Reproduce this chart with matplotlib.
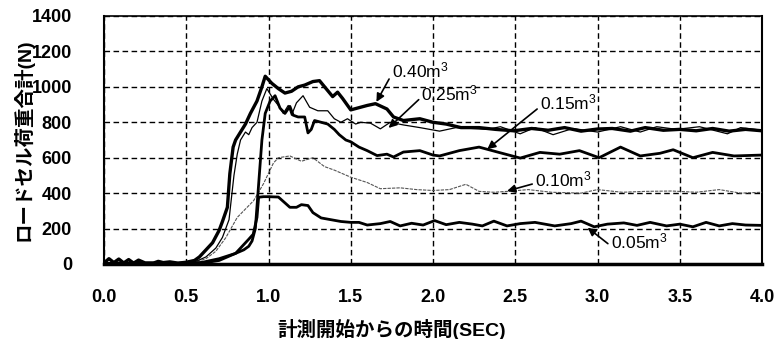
import matplotlib.pyplot as plt

plt.switch_backend('Agg')

# 0.40 m3
t_040 = [0.0, 0.03, 0.06, 0.09, 0.12, 0.15, 0.18, 0.21, 0.25, 0.3, 0.33, 0.36, 0.4, 0.45, 0.5, 0.55,
         0.58, 0.62, 0.66, 0.7, 0.72, 0.75, 0.765, 0.785, 0.8, 0.83, 0.86, 0.89, 0.93, 0.96, 0.98,
         1.02, 1.06, 1.1, 1.14, 1.18, 1.22, 1.27, 1.31, 1.35, 1.39, 1.42, 1.45, 1.5, 1.54, 1.6, 1.65,
         1.72, 1.76, 1.82, 1.92, 2.0, 2.08, 2.17, 2.28, 2.38, 2.49, 2.6, 2.7, 2.8, 2.9, 3.0, 3.09,
         3.2, 3.29, 3.4, 3.5, 3.6, 3.7, 3.8, 3.9, 4.0]
v_040 = [5, 30, 8, 28, 6, 25, 5, 22, 6, 5, 15, 8, 12, 5, 10, 20,
         40, 80, 120, 190, 240, 320, 510, 660, 700, 745, 790, 850, 920, 1000, 1060,
         1020, 990, 965, 975, 1000, 1010, 1030, 1035, 990, 945, 970, 935, 870, 880, 895, 905,
         875, 830, 810, 820, 800, 790, 770, 770, 760, 752, 765, 755, 770, 750, 762, 765,
         750, 770, 755, 760, 752, 765, 750, 760, 752]

# 0.25 m3
t_025 = [0.0, 0.1, 0.2, 0.3, 0.4, 0.5, 0.56, 0.62, 0.68, 0.72, 0.76, 0.79, 0.81, 0.83, 0.86, 0.88,
         0.9, 0.93, 0.96, 0.99, 1.03, 1.06, 1.09, 1.12, 1.14, 1.17, 1.21, 1.25, 1.3, 1.36, 1.4,
         1.44, 1.48, 1.53, 1.56, 1.62, 1.68, 1.74, 1.82, 1.92, 2.04, 2.14, 2.24, 2.33, 2.41, 2.53,
         2.62, 2.73, 2.85, 3.0, 3.14, 3.26, 3.36, 3.48, 3.62, 3.79, 3.87, 4.0]
v_025 = [5, 8, 5, 6, 5, 6, 15, 40, 90, 150, 250, 500, 620, 700, 745, 730,
         770, 800, 920, 990, 930, 895, 850, 895, 840, 910, 950, 885, 865, 865, 820,
         800, 820, 790, 800, 795, 763, 800, 785, 770, 750, 770, 765, 760, 775, 735,
         770, 730, 765, 745, 775, 745, 775, 760, 775, 735, 770, 755]

# 0.15 m3
t_015 = [0.0, 0.1, 0.2, 0.3, 0.4, 0.5, 0.55, 0.6, 0.7, 0.8, 0.85, 0.88, 0.9, 0.92, 0.94, 0.96,
         0.98, 1.01, 1.04, 1.07, 1.1, 1.13, 1.15, 1.18, 1.22, 1.24, 1.26, 1.28, 1.32, 1.36, 1.4,
         1.43, 1.47, 1.5, 1.55, 1.6, 1.66, 1.72, 1.76, 1.82, 1.92, 2.0, 2.04, 2.16, 2.28, 2.4,
         2.53, 2.65, 2.77, 2.89, 3.01, 3.14, 3.26, 3.38, 3.46, 3.58, 3.7, 3.83, 4.0]
v_015 = [3, 5, 3, 5, 3, 5, 5, 10, 30, 60, 80, 100, 130, 200, 450, 700,
         850, 920, 950, 880, 850, 890, 840, 830, 830, 740, 760, 810, 800, 790, 760,
         730, 700, 690, 660, 640, 612, 620, 604, 632, 640, 615, 610, 640, 660, 630,
         598, 630, 620, 640, 600, 660, 610, 625, 645, 600, 630, 610, 615]

# 0.10 m3
t_010 = [0.0, 0.1, 0.2, 0.3, 0.4, 0.5, 0.55, 0.62, 0.68, 0.74, 0.81, 0.87, 0.91, 0.97, 1.0, 1.03,
         1.06, 1.13, 1.2, 1.27, 1.34, 1.4, 1.5, 1.6, 1.68, 1.8, 1.9, 2.0, 2.1, 2.2, 2.28, 2.37,
         2.45, 2.58, 2.72, 2.9, 3.0, 3.15, 3.29, 3.45, 3.6, 3.74, 3.87, 4.0]
v_010 = [3, 5, 3, 5, 3, 5, 8, 30, 72, 148, 263, 320, 358, 454, 512, 570,
         600, 610, 580, 600, 550, 530, 490, 460, 425, 430, 420, 415, 420, 450, 410, 405,
         410, 420, 405, 400, 420, 405, 410, 412, 405, 420, 400, 405]

# 0.05 m3
t_005 = [0.0, 0.1, 0.2, 0.3, 0.4, 0.5, 0.6, 0.7, 0.75, 0.8, 0.85, 0.88, 0.907, 0.93, 0.94, 0.97,
         1.0, 1.06, 1.1, 1.13, 1.17, 1.2, 1.24, 1.27, 1.32, 1.38, 1.44, 1.5, 1.55, 1.6, 1.68,
         1.74, 1.8, 1.87, 1.94, 2.01, 2.08, 2.16, 2.24, 2.3, 2.37, 2.45, 2.53, 2.62, 2.74, 2.84,
         2.9, 2.98, 3.06, 3.16, 3.24, 3.32, 3.42, 3.5, 3.58, 3.66, 3.74, 3.82, 3.9, 4.0]
v_005 = [3, 5, 3, 5, 3, 5, 5, 20, 40, 60, 110, 140, 168, 263, 377, 380,
         380, 378, 345, 320, 320, 335, 330, 290, 260, 250, 240, 235, 235, 220, 228,
         240, 215, 230, 220, 245, 222, 235, 225, 215, 242, 215, 228, 235, 215, 228,
         242, 210, 225, 232, 218, 235, 215, 225, 210, 235, 215, 228, 220, 218]

labels = ['0.40m$^{3}$', '0.25m$^{3}$', '0.15m$^{3}$', '0.10m$^{3}$', '0.05m$^{3}$']
label_xy = [(1.656, 915), (1.73, 768), (2.33, 648), (2.45, 412), (2.94, 205)]
label_text_xy = [(1.75, 1095), (1.93, 965), (2.65, 910), (2.62, 478), (3.08, 125)]
x_ticks = [0.0, 0.5, 1.0, 1.5, 2.0, 2.5, 3.0, 3.5, 4.0]
y_ticks = [0, 200, 400, 600, 800, 1000, 1200, 1400]

plt.rcParams['font.family'] = ['Liberation Sans', 'Noto Sans CJK JP', 'DejaVu Sans']
plt.rcParams['mathtext.fontset'] = 'custom'
plt.rcParams['mathtext.rm'] = 'Liberation Sans'
plt.rcParams['mathtext.it'] = 'Liberation Sans'
plt.rcParams['mathtext.default'] = 'rm'

fig = plt.figure(figsize=(7.8, 3.39), dpi=100)
ax = fig.add_axes([104 / 780, 1 - 264 / 339, 658 / 780, 248 / 339])

ax.plot(t_010, v_010, color='#555555', lw=0.8, ls=(0, (3, 1)), zorder=3)
ax.plot(t_005, v_005, color='black', lw=2.0, zorder=4)
ax.plot(t_015, v_015, color='black', lw=2.0, zorder=4)
ax.plot(t_025, v_025, color='black', lw=0.9, zorder=5)
ax.plot(t_040, v_040, color='black', lw=2.4, zorder=6)

for lab, xy, xyt in zip(labels, label_xy, label_text_xy):
    ax.annotate(lab, xy=xy, xytext=xyt, fontsize=12.5, ha='left', va='center',
                arrowprops=dict(arrowstyle='-|>', color='black', lw=1.2,
                                mutation_scale=12, shrinkA=0, shrinkB=0,
                                relpos=(0, 0.3)),
                zorder=7)

ax.set_xlim(0, 4)
ax.set_ylim(0, 1400)
ax.set_xticks(x_ticks)
ax.set_yticks(y_ticks)
ax.set_xticklabels([f'{x:.1f}' for x in x_ticks], fontsize=13, fontweight='bold')
ax.set_yticklabels([str(y) for y in y_ticks], fontsize=13, fontweight='bold')
ax.tick_params(length=0, pad=18)
ax.tick_params(axis='y', pad=23)

ax.grid(True, color='black', ls=(0, (4, 2.5)), lw=1.0)
for side, lw in [('left', 1.5), ('right', 1.5), ('top', 1.2), ('bottom', 2.5)]:
    ax.spines[side].set_linewidth(lw)

ax.set_xlabel('計測開始からの時間(SEC)', fontsize=14, fontweight='bold')
ax.xaxis.set_label_coords((392 - 104) / 658, -0.22)
ax.set_ylabel('ロードセル荷重合計(N)', fontsize=14, fontweight='bold')
ax.yaxis.set_label_coords(-0.107, 0.5)

plt.savefig('out.png', dpi=100)
plt.close()
